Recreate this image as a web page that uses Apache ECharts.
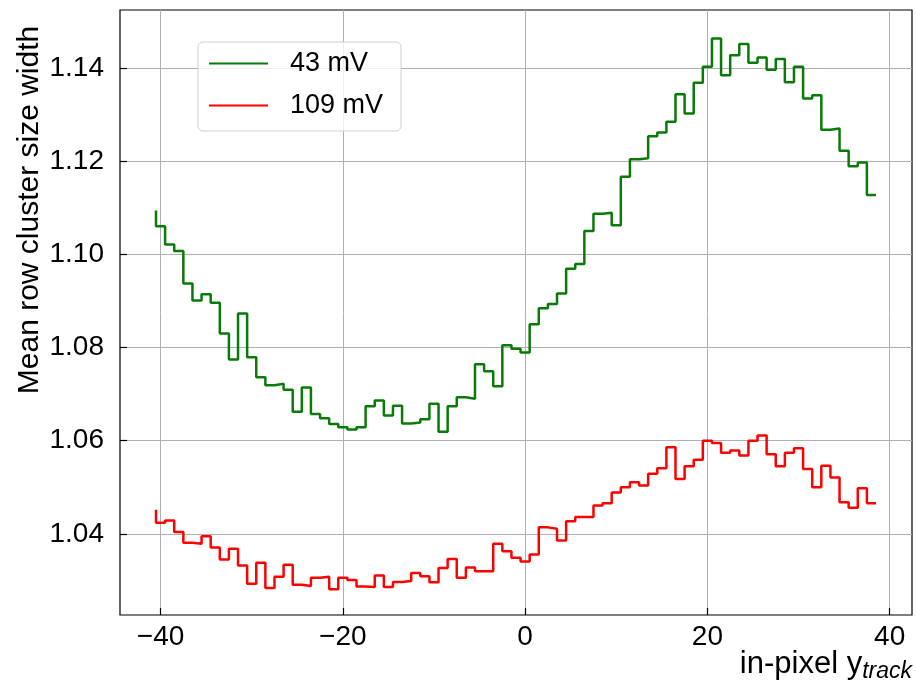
<!DOCTYPE html>
<html>
<head>
<meta charset="utf-8">
<script src="https://cdn.jsdelivr.net/npm/echarts@6/dist/echarts.min.js"></script>
<style>
  html, body { margin: 0; padding: 0; background: #fff; }
  #chart { width: 916px; height: 687px; }
</style>
</head>
<body>
<div id="chart"></div>
<script>
// bin edges of the step histogram (width 1, from -40.5 to 38.5)
const binEdges = Array.from({ length: 80 }, (_, i) => -40.5 + i);

// mean row cluster size width per bin, first value is the starting edge
const mv43 = [1.1094, 1.1060, 1.1021, 1.1007, 1.0937, 1.0901, 1.0914, 1.0896, 1.0830, 1.0774,
  1.0873, 1.0779, 1.0736, 1.0719, 1.0722, 1.0709, 1.0662, 1.0714, 1.0657, 1.0648,
  1.0636, 1.0629, 1.0624, 1.0629, 1.0674, 1.0686, 1.0654, 1.0675, 1.0637, 1.0639,
  1.0646, 1.0679, 1.0619, 1.0674, 1.0693, 1.0690, 1.0764, 1.0749, 1.0717, 1.0805,
  1.0797, 1.0789, 1.0850, 1.0884, 1.0893, 1.0916, 1.0969, 1.0979, 1.1050, 1.1087,
  1.1089, 1.1062, 1.1166, 1.1204, 1.1206, 1.1253, 1.1261, 1.1284, 1.1343, 1.1302,
  1.1368, 1.1402, 1.1463, 1.1384, 1.1427, 1.1451, 1.1411, 1.1422, 1.1396, 1.1419,
  1.1369, 1.1402, 1.1334, 1.1341, 1.1267, 1.1270, 1.1222, 1.1189, 1.1197, 1.1127];

const mv109 = [1.0452, 1.0424, 1.0429, 1.0404, 1.0381, 1.0379, 1.0395, 1.0371, 1.0345, 1.0368,
  1.0332, 1.0293, 1.0338, 1.0284, 1.0308, 1.0334, 1.0291, 1.0288, 1.0306, 1.0308,
  1.0281, 1.0306, 1.0301, 1.0287, 1.0286, 1.0311, 1.0286, 1.0297, 1.0299, 1.0316,
  1.0309, 1.0296, 1.0327, 1.0346, 1.0306, 1.0328, 1.0320, 1.0320, 1.0379, 1.0363,
  1.0349, 1.0341, 1.0356, 1.0414, 1.0411, 1.0386, 1.0427, 1.0436, 1.0436, 1.0461,
  1.0466, 1.0489, 1.0500, 1.0511, 1.0504, 1.0529, 1.0541, 1.0586, 1.0518, 1.0545,
  1.0559, 1.0600, 1.0595, 1.0574, 1.0579, 1.0568, 1.0600, 1.0611, 1.0571, 1.0545,
  1.0574, 1.0584, 1.0539, 1.0500, 1.0546, 1.0521, 1.0468, 1.0456, 1.0498, 1.0466];

const xTicks = [-40, -20, 0, 20, 40];
const yTicks = [1.04, 1.06, 1.08, 1.10, 1.12, 1.14];

const FONT = "Liberation Sans";

const chart = echarts.init(document.getElementById("chart"));
chart.setOption({
  animation: false,
  backgroundColor: "#fff",
  grid: {
    left: 120,
    right: 4,
    top: 10,
    bottom: 72,
    show: true,
    borderColor: "#000",
    borderWidth: 1.2,
  },
  legend: {
    orient: "vertical",
    left: 198,
    top: 42,
    padding: [8, 18, 12, 10],
    itemWidth: 59,
    itemHeight: 26,
    itemGap: 15,
    backgroundColor: "rgba(255,255,255,0.8)",
    borderColor: "#d0d0d0",
    borderWidth: 1,
    borderRadius: 5,
    itemStyle: { opacity: 0 },
    textStyle: {
      fontFamily: FONT,
      fontSize: 27,
      color: "#000",
      padding: [0, 0, 0, 17],
    },
    data: ["43 mV", "109 mV"],
  },
  xAxis: {
    type: "value",
    min: -44.45,
    max: 42.45,
    axisLine: { show: false, onZero: false },
    axisTick: {
      inside: true,
      length: 7,
      customValues: xTicks,
      lineStyle: { color: "#000", width: 1.2 },
    },
    axisLabel: {
      customValues: xTicks,
      fontFamily: FONT,
      fontSize: 28,
      color: "#000",
      margin: 8,
      formatter: (v) => (v < 0 ? "\u2212" + Math.abs(v) : String(v)),
    },
    splitLine: {
      show: true,
      lineStyle: { color: "#b0b0b0", width: 1 },
    },
  },
  yAxis: {
    type: "value",
    min: 1.0226,
    max: 1.1524,
    axisLine: { show: false, onZero: false },
    axisTick: {
      inside: true,
      length: 7,
      customValues: yTicks,
      lineStyle: { color: "#000", width: 1.2 },
    },
    axisLabel: {
      customValues: yTicks,
      fontFamily: FONT,
      fontSize: 28,
      color: "#000",
      margin: 16,
      formatter: (v) => v.toFixed(2),
    },
    splitLine: {
      show: true,
      lineStyle: { color: "#b0b0b0", width: 1 },
    },
  },
  graphic: [
    {
      type: "text",
      x: 30,
      y: 210,
      rotation: Math.PI / 2,
      style: {
        text: "Mean row cluster size width",
        fontFamily: FONT,
        fontSize: 30,
        fill: "#000",
        align: "center",
        verticalAlign: "middle",
        textAlign: "center",
        textVerticalAlign: "middle",
      },
    },
    {
      type: "text",
      x: 912,
      y: 664,
      style: {
        text: "{a|in-pixel y}{b|track}",
        align: "right",
        verticalAlign: "middle",
        textAlign: "right",
        textVerticalAlign: "middle",
        rich: {
          a: { fontFamily: FONT, fontSize: 31, fill: "#000" },
          b: { fontFamily: FONT, fontSize: 23, fontStyle: "italic", fill: "#000", padding: [15, 0, 0, 0] },
        },
      },
    },
  ],
  series: [
    {
      name: "43 mV",
      type: "line",
      step: "start",
      symbol: "none",
      color: "#087a08",
      lineStyle: { width: 2.5, color: "#087a08" },
      data: binEdges.map((x, i) => [x, mv43[i]]),
    },
    {
      name: "109 mV",
      type: "line",
      step: "start",
      symbol: "none",
      color: "#ff0000",
      lineStyle: { width: 2.5, color: "#ff0000" },
      data: binEdges.map((x, i) => [x, mv109[i]]),
    },
  ],
});
</script>
</body>
</html>
